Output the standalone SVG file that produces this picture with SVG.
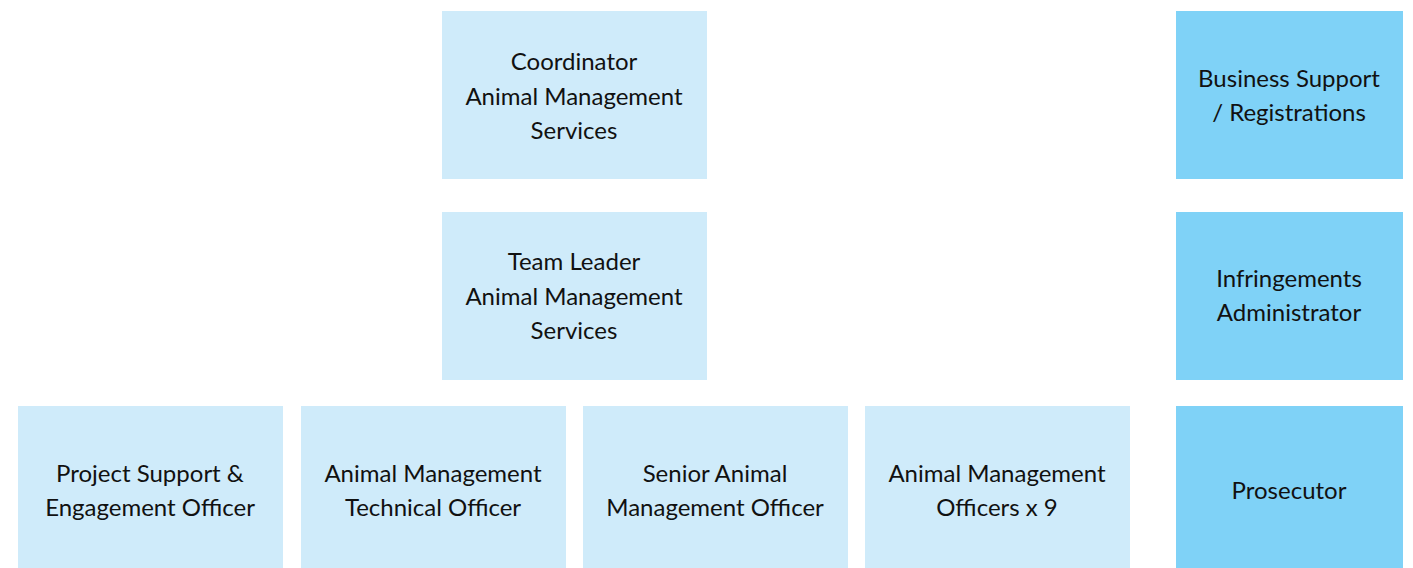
<svg xmlns="http://www.w3.org/2000/svg" width="1413" height="568" viewBox="0 0 1413 568">
  <style>
    .light { fill: #CFEBFA; }
    .dark { fill: #7FD2F7; }
    text { font-family: Lato, "Noto Sans", "Liberation Sans", sans-serif; font-size: 24px; fill: #111111; text-anchor: middle; }
  </style>
  <rect width="1413" height="568" fill="#FFFFFF"/>
  <g id="connectors"></g>

  <g id="coordinator">
    <rect class="light" x="442" y="11" width="265" height="168"/>
    <text x="574" y="70">Coordinator</text>
    <text x="574" y="105">Animal Management</text>
    <text x="574" y="139">Services</text>
  </g>

  <g id="team-leader">
    <rect class="light" x="442" y="212" width="265" height="168"/>
    <text x="574" y="270">Team Leader</text>
    <text x="574" y="305">Animal Management</text>
    <text x="574" y="339">Services</text>
  </g>

  <g id="project-support">
    <rect class="light" x="18" y="406" width="265" height="162"/>
    <text x="150" y="482">Project Support &amp;</text>
    <text x="150" y="516">Engagement Officer</text>
  </g>

  <g id="technical-officer">
    <rect class="light" x="301" y="406" width="265" height="162"/>
    <text x="433" y="482">Animal Management</text>
    <text x="433" y="516">Technical Officer</text>
  </g>

  <g id="senior-officer">
    <rect class="light" x="583" y="406" width="265" height="162"/>
    <text x="715" y="482">Senior Animal</text>
    <text x="715" y="516">Management Officer</text>
  </g>

  <g id="officers">
    <rect class="light" x="865" y="406" width="265" height="162"/>
    <text x="997" y="482">Animal Management</text>
    <text x="997" y="516">Officers x 9</text>
  </g>

  <g id="business-support">
    <rect class="dark" x="1176" y="11" width="227" height="168"/>
    <text x="1289" y="87">Business Support</text>
    <text x="1289" y="121">/ Registrations</text>
  </g>

  <g id="infringements">
    <rect class="dark" x="1176" y="212" width="227" height="168"/>
    <text x="1289" y="287">Infringements</text>
    <text x="1289" y="321">Administrator</text>
  </g>

  <g id="prosecutor">
    <rect class="dark" x="1176" y="406" width="227" height="162"/>
    <text x="1289" y="499">Prosecutor</text>
  </g>
</svg>
